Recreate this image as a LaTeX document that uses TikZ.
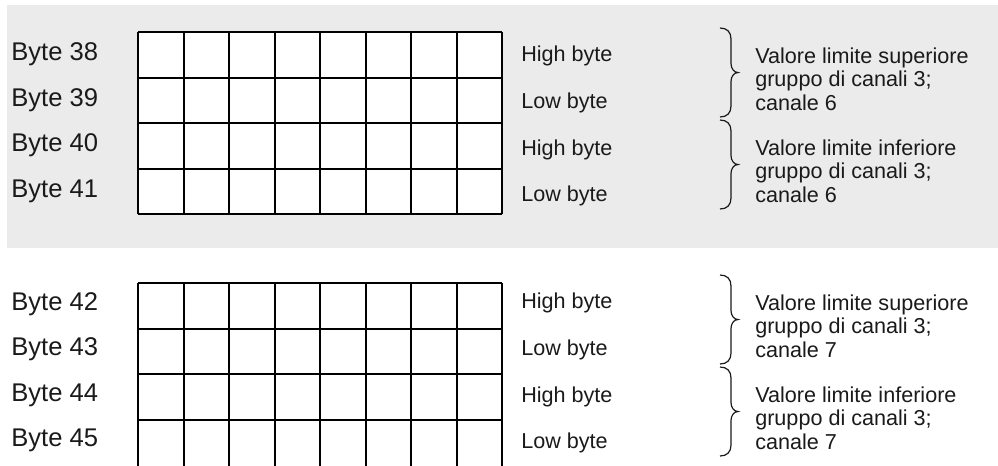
\documentclass[tikz,border=0pt]{standalone}
\usepackage{fontspec}
\setmainfont{Liberation Sans}
\definecolor{bandgray}{HTML}{EBEBEB}
\definecolor{txt}{HTML}{1A1A1A}
\begin{document}
\begin{tikzpicture}[x=0.75pt,y=-0.75pt,
  gridline/.style={line width=1.5pt,black},
  bracestyle/.style={line width=0.9pt,txt},
  bytelabel/.style={anchor=base west,inner sep=0pt,text=txt,font=\fontsize{19.2}{22}\selectfont},
  hilo/.style={anchor=base west,inner sep=0pt,text=txt,font=\fontsize{16.2}{17.6}\selectfont},
  desc/.style={anchor=base west,inner sep=0pt,text=txt,font=\fontsize{16.2}{17.6}\selectfont},
  rbrace/.pic={\draw[bracestyle] (0,0) .. controls (7,0) and (11,4) .. (11,11) -- (11,35.5)
     .. controls (11,40.5) and (14,44.5) .. (18,44.5)
     .. controls (14,44.5) and (11,48.5) .. (11,53.5) -- (11,78)
     .. controls (11,85) and (7,89) .. (0,89);}
]
\useasboundingbox (0,0) rectangle (998,465);
\fill[bandgray] (7,5) rectangle (998,248);

% top grid
\fill[white] (138,32) rectangle (502,214);
\foreach \i in {0,...,8} \draw[gridline] (138+45.5*\i,32) -- (138+45.5*\i,214);
\foreach \j in {0,...,4} \draw[gridline] (138,32+45.5*\j) -- (502,32+45.5*\j);

% bottom grid
\foreach \i in {0,...,8} \draw[gridline] (138+45.5*\i,283) -- (138+45.5*\i,468);
\foreach \j in {0,...,3} \draw[gridline] (138,283+45.5*\j) -- (502,283+45.5*\j);

% byte labels
\node[bytelabel] (b38) at (11,60.5) {Byte 38};
\node[bytelabel] (b39) at (11,106) {Byte 39};
\node[bytelabel] (b40) at (11,151.5) {Byte 40};
\node[bytelabel] (b41) at (11,197) {Byte 41};
\node[bytelabel] (b42) at (11,310.3) {Byte 42};
\node[bytelabel] (b43) at (11,355.8) {Byte 43};
\node[bytelabel] (b44) at (11,401.3) {Byte 44};
\node[bytelabel] (b45) at (11,446.8) {Byte 45};

% high/low labels
\node[hilo] (h38) at (521,61.7) {High byte};
\node[hilo] (l39) at (521,108.4) {Low byte};
\node[hilo] (h40) at (521,155.0) {High byte};
\node[hilo] (l41) at (521,201.7) {Low byte};
\node[hilo] (h42) at (521,308.7) {High byte};
\node[hilo] (l43) at (521,355.4) {Low byte};
\node[hilo] (h44) at (521,402.0) {High byte};
\node[hilo] (l45) at (521,448.7) {Low byte};

% braces
\pic at (720,28) {rbrace};
\pic at (720,120) {rbrace};
\pic at (720,275) {rbrace};
\pic at (720,367) {rbrace};

% descriptions
\node[desc] (d1) at (755,63.5) {\begin{tabular}[t]{@{}l@{}}Valore limite superiore\\gruppo di canali 3;\\canale 6\end{tabular}};
\node[desc] (d2) at (755,155.5) {\begin{tabular}[t]{@{}l@{}}Valore limite inferiore\\gruppo di canali 3;\\canale 6\end{tabular}};
\node[desc] (d3) at (755,310.5) {\begin{tabular}[t]{@{}l@{}}Valore limite superiore\\gruppo di canali 3;\\canale 7\end{tabular}};
\node[desc] (d4) at (755,402.5) {\begin{tabular}[t]{@{}l@{}}Valore limite inferiore\\gruppo di canali 3;\\canale 7\end{tabular}};
\end{tikzpicture}
\end{document}
